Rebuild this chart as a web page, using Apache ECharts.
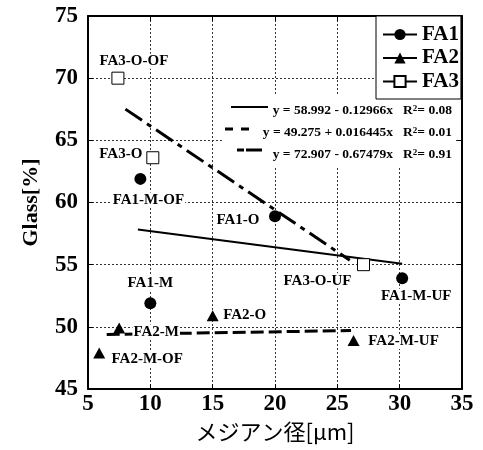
<!DOCTYPE html>
<html>
<head>
<meta charset="utf-8">
<script src="https://cdn.jsdelivr.net/npm/echarts@6/dist/echarts.min.js"></script>
<style>
  html, body { margin: 0; padding: 0; background: #fff; }
  #chart { width: 483px; height: 450px; }
</style>
</head>
<body>
<div id="chart"></div>
<script>
// Glass content versus median particle size for three fly ashes
const fa1Names = ['FA1-M-OF', 'FA1-M', 'FA1-O', 'FA1-M-UF'];
const fa1X = [9.2, 10.0, 20.0, 30.2];
const fa1Y = [61.9, 51.9, 58.9, 53.9];

const fa2Names = ['FA2-M-OF', 'FA2-M', 'FA2-O', 'FA2-M-UF'];
const fa2X = [5.9, 7.5, 15.0, 26.3];
const fa2Y = [47.9, 49.9, 50.9, 48.9];

const fa3Names = ['FA3-O-OF', 'FA3-O', 'FA3-O-UF'];
const fa3X = [7.4, 10.2, 27.1];
const fa3Y = [70.0, 63.6, 55.0];

// end points of the fitted straight lines
const fit1X = [9.0, 30.2];
const fit1Y = [57.82, 55.08];
const fit2X = [6.5, 26.1];
const fit2Y = [49.38, 49.70];
const fit3X = [8.0, 26.0];
const fit3Y = [67.51, 55.36];

const fitEquations = ['y = 58.992 - 0.12966x', 'y = 49.275 + 0.016445x', 'y = 72.907 - 0.67479x'];
const fitR2 = ['0.08', '0.01', '0.91'];

const xMin = 5, xMax = 35, xStep = 5;
const yMin = 45, yMax = 75, yStep = 5;

const SERIF = '"Liberation Serif", "Times New Roman", serif';

// where each point label sits relative to its marker (px)
const labelOffsets = {
  'FA1-M-OF': [8, 21], 'FA1-M': [0, -20], 'FA1-O': [-37, 4], 'FA1-M-UF': [14, 18],
  'FA2-M-OF': [48, 6], 'FA2-M': [37, 4], 'FA2-O': [32, -1], 'FA2-M-UF': [50, 1],
  'FA3-O-OF': [16, -17], 'FA3-O': [-32, -4], 'FA3-O-UF': [-46, 16]
};

function points(names, xs, ys) {
  return names.map((n, i) => ({
    name: n,
    value: [xs[i], ys[i]],
    label: { offset: labelOffsets[n] }
  }));
}
function segment(xs, ys) {
  return xs.map((x, i) => [x, ys[i]]);
}

const pointLabel = {
  show: true,
  position: 'inside',
  formatter: '{b}',
  color: '#000',
  fontFamily: SERIF,
  fontWeight: 'bold',
  fontSize: 15,
  backgroundColor: '#fff',
  padding: [0, 1]
};

function markerSeries(name, data, symbol, size, itemStyle) {
  return {
    name: name,
    type: 'line',
    data: data,
    symbol: symbol,
    symbolSize: size,
    showSymbol: true,
    lineStyle: { opacity: 0 },
    itemStyle: itemStyle,
    label: pointLabel,
    z: 4,
    emphasis: { disabled: true },
    animation: false
  };
}
function fitSeries(data, lineStyle) {
  return {
    type: 'line',
    data: data,
    symbol: 'none',
    silent: true,
    lineStyle: Object.assign({ color: '#000' }, lineStyle),
    z: 2,
    animation: false
  };
}

const axisBox = { show: true, lineStyle: { color: '#000', width: 2 } };
const gridDots = { show: true, lineStyle: { color: '#333', width: 1, type: [2, 2] } };
const innerTicks = { show: true, inside: true, length: 5, lineStyle: { color: '#000', width: 1 } };

const eqRich = {
  sup: { fontFamily: SERIF, fontWeight: 'bold', fontSize: 9, verticalAlign: 'top', lineHeight: 10 }
};
const eqRows = [111, 133, 155];

const graphics = [
  { type: 'rect', shape: { x: 222, y: 95, width: 234, height: 72 }, style: { fill: '#fff' }, z: 1, silent: true },
  { type: 'line', shape: { x1: 231, y1: 107, x2: 268, y2: 107 }, style: { stroke: '#000', lineWidth: 2 }, z: 5, silent: true },
  { type: 'line', shape: { x1: 225, y1: 129, x2: 253, y2: 129 }, style: { stroke: '#000', lineWidth: 3, lineDash: [8, 8] }, z: 5, silent: true },
  { type: 'line', shape: { x1: 237, y1: 150, x2: 263, y2: 150 }, style: { stroke: '#000', lineWidth: 3, lineDash: [7, 2, 16, 2] }, z: 5, silent: true }
];
fitEquations.forEach((eq, i) => {
  graphics.push({
    type: 'text',
    x: 452,
    y: eqRows[i],
    z: 5,
    silent: true,
    style: {
      text: eq + '   R{sup|2}= ' + fitR2[i],
      rich: eqRich,
      fill: '#000',
      fontFamily: SERIF,
      fontWeight: 'bold',
      fontSize: 13.5,
      align: 'right',
      verticalAlign: 'middle'
    }
  });
});

const chart = echarts.init(document.getElementById('chart'), null, { renderer: 'canvas' });
chart.setOption({
  animation: false,
  backgroundColor: '#fff',
  grid: { left: 88, right: 21, top: 16, bottom: 61, containLabel: false },
  xAxis: [{
    type: 'value', min: xMin, max: xMax, interval: xStep,
    position: 'bottom',
    axisLine: axisBox, axisTick: innerTicks, splitLine: gridDots,
    axisLabel: { color: '#000', fontFamily: SERIF, fontWeight: 'bold', fontSize: 23, margin: 4 },
    name: 'メジアン径[μm]', nameLocation: 'middle', nameGap: 32,
    nameTextStyle: { color: '#000', fontFamily: '"Noto Sans CJK JP", sans-serif', fontSize: 22 }
  }, {
    type: 'value', min: xMin, max: xMax, interval: xStep,
    position: 'top',
    axisLine: axisBox, axisTick: innerTicks, splitLine: { show: false },
    axisLabel: { show: false }
  }],
  yAxis: [{
    type: 'value', min: yMin, max: yMax, interval: yStep,
    position: 'left',
    axisLine: axisBox, axisTick: innerTicks, splitLine: gridDots,
    axisLabel: { color: '#000', fontFamily: SERIF, fontWeight: 'bold', fontSize: 23, margin: 10 },
    name: 'Glass[%]', nameLocation: 'middle', nameGap: 46, nameRotate: 90,
    nameTextStyle: { color: '#000', fontFamily: SERIF, fontWeight: 'bold', fontSize: 22 }
  }, {
    type: 'value', min: yMin, max: yMax, interval: yStep,
    position: 'right',
    axisLine: axisBox, axisTick: innerTicks, splitLine: { show: false },
    axisLabel: { show: false }
  }],
  legend: {
    data: ['FA1', 'FA2', 'FA3'],
    orient: 'vertical',
    left: 376, top: 16,
    padding: [8, 2, 7, 6],
    itemWidth: 34, itemHeight: 14, itemGap: 2.5,
    selectedMode: false,
    borderColor: '#000', borderWidth: 1, borderRadius: 0,
    backgroundColor: '#fff',
    lineStyle: { color: '#000', width: 2, opacity: 1, type: 'solid' },
    textStyle: { color: '#000', fontFamily: SERIF, fontWeight: 'bold', fontSize: 21, lineHeight: 17 },
    z: 6
  },
  graphic: graphics,
  series: [
    fitSeries(segment(fit1X, fit1Y), { width: 2, type: 'solid' }),
    fitSeries(segment(fit2X, fit2Y), { width: 3, type: [13, 5] }),
    fitSeries(segment(fit3X, fit3Y), { width: 3, type: [20, 6, 5, 6] }),
    markerSeries('FA1', points(fa1Names, fa1X, fa1Y), 'circle', 12, { color: '#000' }),
    markerSeries('FA2', points(fa2Names, fa2X, fa2Y), 'triangle', [12, 11], { color: '#000' }),
    markerSeries('FA3', points(fa3Names, fa3X, fa3Y), 'rect', 12, { color: '#fff', borderColor: '#000', borderWidth: 1 })
  ]
});
</script>
</body>
</html>
